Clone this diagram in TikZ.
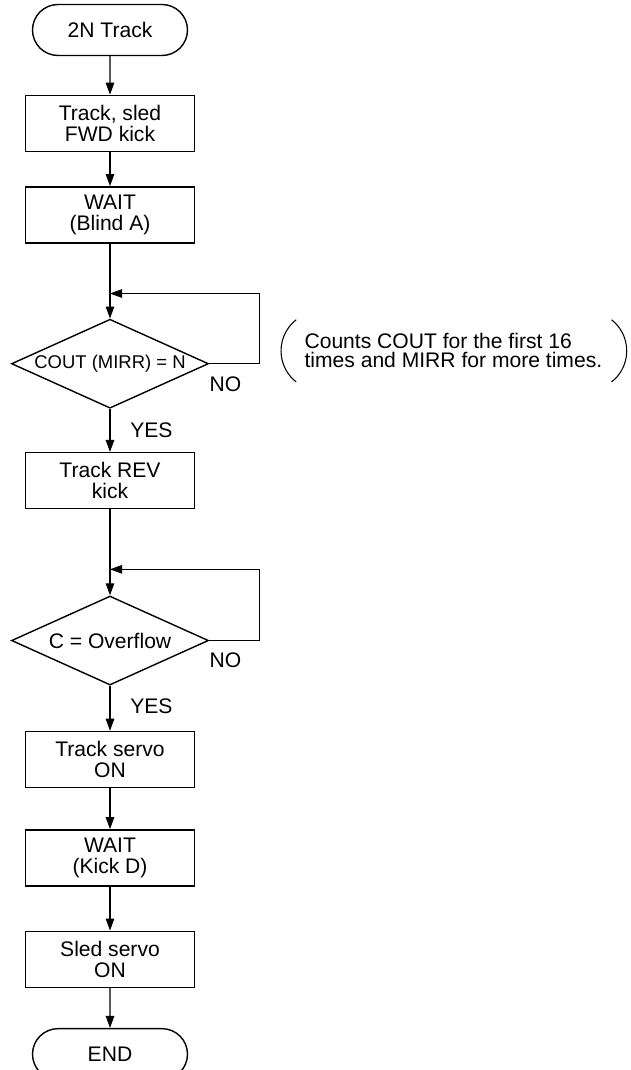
\documentclass[tikz,border=0pt]{standalone}
\usepackage{fontspec}
\setmainfont{Liberation Sans}
\usetikzlibrary{arrows.meta,positioning,shapes.geometric,shapes.misc}

\begin{document}
\begin{tikzpicture}[
    >={Triangle[length=2.4mm,width=1.7mm]},
    node distance=8mm,
    every node/.style={font=\fontsize{12}{12}\selectfont},
    term/.style={
        draw,
        rounded rectangle,
        line width=0.8pt,
        minimum width=31mm,
        minimum height=10.2mm,
        inner sep=0pt
    },
    box/.style={
        draw,
        align=center,
        line width=0.8pt,
        minimum width=33.8mm,
        minimum height=11.2mm,
        inner sep=0pt
    },
    decision/.style={
        draw,
        diamond,
        line width=0.8pt,
        minimum width=39.4mm,
        minimum height=17.8mm,
        inner sep=0pt
    },
    lbl/.style={inner sep=0pt},
    flow/.style={->, line width=0.6pt},
    paren/.style={line width=0.6pt}
]
  \useasboundingbox (0,0) rectangle (126mm,-214mm);

  \node[term] (start) at (22mm,-6mm) {2N Track};
  \node[box, below=7.7mm of start] (fwd) {Track, sled\\FWD kick};
  \node[box, below=6.8mm of fwd] (blind) {WAIT\\(Blind A)};
  \node[decision, below=15mm of blind] (cout) {};
  \node[lbl, font=\fontsize{10.5}{12}\selectfont] (couttext) at (cout) {COUT (MIRR) = N};
  \node[box, below=8.6mm of cout] (rev) {Track REV\\kick};
  \node[decision, below=17.2mm of rev] (ovf) {};
  \node[lbl] (ovftext) at (ovf) {C = Overflow};
  \node[box, below=9mm of ovf] (tservo) {Track servo\\ON};
  \node[box, below=8.2mm of tservo] (kick) {WAIT\\(Kick D)};
  \node[box, below=8.8mm of kick] (sservo) {Sled servo\\ON};
  \node[term, below=8mm of sservo] (finish) {END};

  % loop points
  \coordinate[above=5mm of cout.north] (j1);
  \coordinate[above=5.2mm of ovf.north] (j2);

  % branch labels
  \node[lbl, below right=2.6mm and 0mm of cout.east] (no1) {NO};
  \node[lbl, below right=2.8mm and 4mm of cout.south] (yes1) {YES};
  \node[lbl, below right=2.4mm and 0mm of ovf.east] (no2) {NO};
  \node[lbl, below right=2.6mm and 4mm of ovf.south] (yes2) {YES};

  % side note
  \node[lbl, align=left, font=\fontsize{12}{10.8}\selectfont,
        right=19mm of cout.east, yshift=2.6mm] (note)
        {Counts COUT for the first 16\\times and MIRR for more times.};
  \draw[paren] ([xshift=-1.6mm,yshift=6.2mm]note.west)
        arc[start angle=128, end angle=232, radius=7.9mm];
  \draw[paren] ([xshift=1.8mm,yshift=6.2mm]note.east)
        arc[start angle=52, end angle=-52, radius=7.9mm];

  \draw[flow] (start) -- (fwd);
  \draw[flow] (fwd) -- (blind);
  \draw[flow] (blind) -- (cout);
  \draw[flow] (cout.east) -- ++(10mm,0) |- (j1);
  \draw[flow] (cout) -- (rev);
  \draw[flow] (rev) -- (ovf);
  \draw[flow] (ovf.east) -- ++(10mm,0) |- (j2);
  \draw[flow] (ovf) -- (tservo);
  \draw[flow] (tservo) -- (kick);
  \draw[flow] (kick) -- (sservo);
  \draw[flow] (sservo) -- (finish);
\end{tikzpicture}
\end{document}
